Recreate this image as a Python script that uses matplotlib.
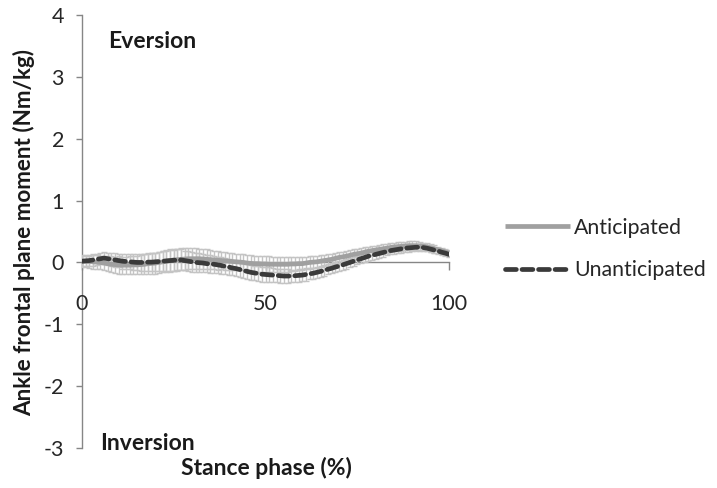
import matplotlib
matplotlib.use("Agg")
import matplotlib.pyplot as plt
import numpy as np

plt.rcParams['font.family'] = ['Lato', 'DejaVu Sans']

stance = list(range(0, 101))

anticipated = [
    0.02, 0.02, 0.015, 0.01, 0.005, 0.0, -0.01, -0.02, -0.03, -0.035,
    -0.04, -0.045, -0.045, -0.045, -0.04, -0.04, -0.035, -0.03, -0.02, -0.015,
    -0.01, 0.0, 0.01, 0.02, 0.03, 0.04, 0.045, 0.05, 0.055, 0.06,
    0.06, 0.06, 0.06, 0.055, 0.05, 0.045, 0.04, 0.035, 0.03, 0.025,
    0.02, 0.015, 0.01, 0.005, 0.0, -0.01, -0.015, -0.02, -0.02, -0.025,
    -0.025, -0.03, -0.03, -0.03, -0.03, -0.03, -0.03, -0.025, -0.025, -0.02,
    -0.02, -0.01, 0.0, 0.005, 0.01, 0.02, 0.03, 0.04, 0.05, 0.065,
    0.08, 0.09, 0.10, 0.115, 0.13, 0.14, 0.15, 0.165, 0.18, 0.19,
    0.20, 0.21, 0.22, 0.23, 0.24, 0.25, 0.255, 0.26, 0.265, 0.27,
    0.27, 0.27, 0.265, 0.26, 0.25, 0.235, 0.22, 0.205, 0.19, 0.17,
    0.15]

unanticipated = [
    0.02, 0.025, 0.03, 0.04, 0.05, 0.06, 0.07, 0.06, 0.05, 0.04,
    0.03, 0.02, 0.015, 0.01, 0.005, 0.0, 0.0, 0.0, 0.005, 0.005,
    0.01, 0.015, 0.02, 0.025, 0.03, 0.035, 0.04, 0.04, 0.03, 0.02,
    0.01, 0.0, -0.005, -0.01, -0.02, -0.025, -0.03, -0.04, -0.05, -0.065,
    -0.075, -0.09, -0.10, -0.115, -0.13, -0.145, -0.16, -0.17, -0.18, -0.19,
    -0.195, -0.20, -0.205, -0.21, -0.215, -0.22, -0.22, -0.22, -0.215, -0.21,
    -0.205, -0.195, -0.185, -0.175, -0.16, -0.145, -0.13, -0.11, -0.095, -0.075,
    -0.06, -0.04, -0.02, 0.0, 0.02, 0.04, 0.06, 0.08, 0.10, 0.115,
    0.13, 0.145, 0.16, 0.175, 0.19, 0.20, 0.21, 0.22, 0.23, 0.235,
    0.24, 0.245, 0.245, 0.24, 0.23, 0.215, 0.20, 0.185, 0.165, 0.15,
    0.13]

sd_anticipated = [
    0.10, 0.10, 0.10, 0.11, 0.11, 0.11, 0.12, 0.12, 0.13, 0.13,
    0.14, 0.14, 0.14, 0.15, 0.15, 0.15, 0.16, 0.16, 0.16, 0.17,
    0.17, 0.17, 0.17, 0.18, 0.18, 0.18, 0.18, 0.18, 0.18, 0.17,
    0.17, 0.17, 0.16, 0.16, 0.16, 0.15, 0.15, 0.15, 0.14, 0.14,
    0.14, 0.14, 0.13, 0.13, 0.13, 0.13, 0.13, 0.13, 0.13, 0.13,
    0.13, 0.13, 0.12, 0.12, 0.12, 0.12, 0.12, 0.11, 0.11, 0.11,
    0.11, 0.10, 0.10, 0.10, 0.10, 0.10, 0.09, 0.09, 0.09, 0.09,
    0.09, 0.08, 0.08, 0.08, 0.08, 0.08, 0.08, 0.08, 0.07, 0.07,
    0.07, 0.07, 0.07, 0.07, 0.07, 0.07, 0.07, 0.07, 0.07, 0.07,
    0.07, 0.07, 0.06, 0.06, 0.06, 0.06, 0.06, 0.05, 0.05, 0.05,
    0.05]

sd_unanticipated = [
    0.08, 0.08, 0.08, 0.09, 0.09, 0.09, 0.10, 0.10, 0.10, 0.11,
    0.11, 0.12, 0.12, 0.12, 0.13, 0.13, 0.14, 0.14, 0.15, 0.15,
    0.15, 0.16, 0.16, 0.16, 0.17, 0.17, 0.17, 0.17, 0.16, 0.16,
    0.16, 0.15, 0.15, 0.15, 0.14, 0.14, 0.14, 0.13, 0.13, 0.13,
    0.13, 0.12, 0.12, 0.12, 0.12, 0.12, 0.12, 0.12, 0.12, 0.12,
    0.12, 0.12, 0.11, 0.11, 0.11, 0.11, 0.11, 0.10, 0.10, 0.10,
    0.10, 0.10, 0.09, 0.09, 0.09, 0.09, 0.09, 0.08, 0.08, 0.08,
    0.08, 0.08, 0.08, 0.07, 0.07, 0.07, 0.07, 0.07, 0.07, 0.07,
    0.07, 0.07, 0.07, 0.06, 0.06, 0.06, 0.06, 0.06, 0.06, 0.06,
    0.06, 0.06, 0.06, 0.06, 0.05, 0.05, 0.05, 0.05, 0.05, 0.05,
    0.05]

y_ticks = [-3, -2, -1, 0, 1, 2, 3, 4]
x_ticks = [0, 50, 100]

W, H = 717, 488
fig = plt.figure(figsize=(W / 100, H / 100), dpi=100)
ax = fig.add_axes([82 / W, 1 - 448 / H, 367 / W, 433 / H])

err_col = '#c4c4c4'
ax.errorbar(stance, anticipated, yerr=sd_anticipated, fmt='none',
            ecolor=err_col, elinewidth=1.0, capsize=2.4, capthick=1.0, zorder=2)
ax.errorbar(stance, unanticipated, yerr=sd_unanticipated, fmt='none',
            ecolor=err_col, elinewidth=1.0, capsize=2.4, capthick=1.0, zorder=2)
l1, = ax.plot(stance, anticipated, color='#a0a0a0', lw=3.4, zorder=3,
              solid_capstyle='butt', label='Anticipated')
l2, = ax.plot(stance, unanticipated, color='#3a3a3a', lw=3.4, zorder=4,
              dashes=(2.3, 1.2), dash_capstyle='round', label='Unanticipated')

ax.set_xlim(0, 100)
ax.set_ylim(-3, 4)
ax.set_yticks(y_ticks)
ax.set_xticks(x_ticks)
ax.set_yticklabels([str(v) for v in y_ticks])
ax.set_xticklabels([str(v) for v in x_ticks])

for s in ['top', 'right']:
    ax.spines[s].set_visible(False)
ax.spines['bottom'].set_position(('data', 0))
for s in ['left', 'bottom']:
    ax.spines[s].set_color('#868686')
    ax.spines[s].set_linewidth(1.0)
    ax.spines[s].set_zorder(1)

ax.tick_params(axis='y', direction='out', length=4.5, width=1.0,
               color='#868686', labelsize=15.5, labelcolor='#262626', pad=8.5)
ax.tick_params(axis='x', direction='out', length=5.5, width=1.0,
               color='#868686', labelsize=15.5, labelcolor='#262626', pad=17)

def px(x, y):
    return x / W, 1 - y / H

fig.text(*px(108, 41), 'Eversion', fontsize=16.5, fontweight='bold',
         color='#1a1a1a', va='center', ha='left')
fig.text(*px(100, 443), 'Inversion', fontsize=16.5, fontweight='bold',
         color='#1a1a1a', va='center', ha='left')
fig.text(*px(266, 468), 'Stance phase (%)', fontsize=16.5, fontweight='bold',
         color='#1a1a1a', va='center', ha='center')
fig.text(*px(24, 232), 'Ankle frontal plane moment (Nm/kg)', fontsize=16.2,
         fontweight='bold', color='#1a1a1a', va='center', ha='center',
         rotation=90)

leg = fig.legend(handles=[l1, l2], loc='center left',
                 bbox_to_anchor=(505 / W, 1 - 249 / H), frameon=False,
                 fontsize=15.3, handlelength=3.05, handletextpad=0.2,
                 labelspacing=1.05, borderaxespad=0, borderpad=0)
for t in leg.get_texts():
    t.set_color('#262626')

fig.savefig('out.png', dpi=100)
